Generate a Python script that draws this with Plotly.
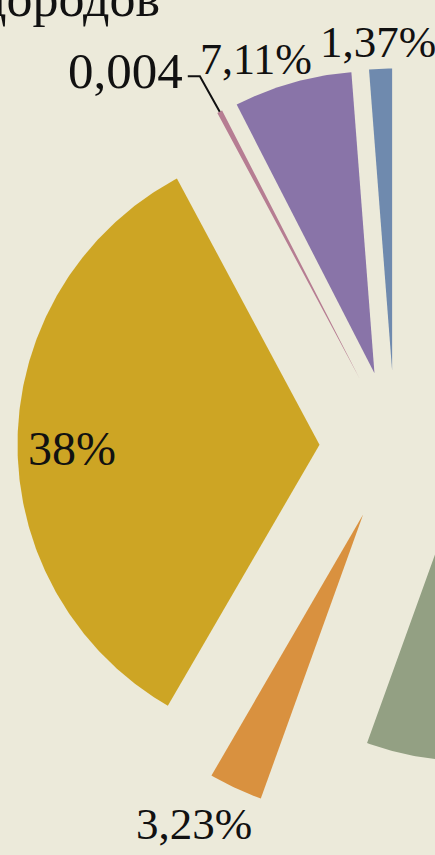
import numpy as np
import plotly.graph_objects as go

# ---- data ----
categories = ["Сегмент 1", "Сегмент 2", "Сегмент 3", "Сегмент 4", "Сегмент 5", "Сегмент 6"]
values = [1.37, 7.11, 0.32, 38.0, 3.23, 62.4]
label_text = ["1,37%", "7,11%", "0,004", "38%", "3,23%", ""]
title_text = "Доля углеводородов"

# ---- style ----
colors = ["#6F8AAE", "#8974A8", "#B67D92", "#CDA524", "#D9913F", "#93A083"]
bg = "#ECEADA"
explode = 0.25
label_r = [1.09, 1.11, 1.28, 0.82, 1.17, 1.1]
label_dtheta = [0.3, 5.0, 9.6, 1.8, -3.7, 0.0]
label_size = [45, 44, 51, 48, 45, 40]
font_family = "Liberation Serif, DejaVu Serif, serif"

total = float(sum(values))
cum = np.concatenate([[0.0], np.cumsum(values)]) / total * 360.0


def unit(a_deg):
    a = np.deg2rad(a_deg)
    return np.array([-np.sin(a), np.cos(a)])


fig = go.Figure()
annotations = []
for i, (cat, v) in enumerate(zip(categories, values)):
    a0, a1 = cum[i], cum[i + 1]
    mid = 0.5 * (a0 + a1)
    apex = explode * unit(mid)
    angs = np.linspace(a0, a1, max(8, int((a1 - a0) * 2)))
    arc = np.array([apex + unit(a) for a in angs])
    xs = np.concatenate([[apex[0]], arc[:, 0], [apex[0]]])
    ys = np.concatenate([[apex[1]], arc[:, 1], [apex[1]]])
    fig.add_trace(go.Scatter(
        x=xs, y=ys, mode="lines", fill="toself",
        fillcolor=colors[i], line=dict(width=0, color=colors[i]),
        name=cat, hoverinfo="name", showlegend=False))
    if label_text[i]:
        pos = apex + label_r[i] * unit(mid + label_dtheta[i])
        annotations.append(dict(
            x=pos[0], y=pos[1], xref="x", yref="y", text=label_text[i],
            showarrow=False, xanchor="center", yanchor="middle",
            font=dict(family=font_family, size=label_size[i], color="#111111")))
        if label_text[i] == "0,004":
            outer = apex + 1.0 * unit(mid)
            end = pos + np.array([0.205, -0.016])
            elbow = end + np.array([0.04, 0.0])
            fig.add_trace(go.Scatter(
                x=[outer[0], elbow[0], end[0]], y=[outer[1], elbow[1], end[1]],
                mode="lines", line=dict(color="#111111", width=2),
                hoverinfo="skip", showlegend=False))

annotations.append(dict(
    x=162 / 435, y=1 - 29 / 855, xref="paper", yref="paper",
    text=title_text, showarrow=False, xanchor="right", yanchor="bottom",
    font=dict(family=font_family, size=52, color="#111111")))

fig.update_layout(
    width=435, height=855,
    margin=dict(l=0, r=0, t=0, b=0),
    paper_bgcolor=bg, plot_bgcolor=bg,
    xaxis=dict(range=[-395 / 302, 40 / 302], visible=False, fixedrange=True),
    yaxis=dict(range=[-(855 - 446) / 302, 446 / 302], visible=False, fixedrange=True),
    annotations=annotations,
    showlegend=False,
)

fig.write_html(
    "out.html",
    config={"displayModeBar": False},
    post_script="document.body.style.margin='0';document.body.style.background='" + bg + "';",
)
